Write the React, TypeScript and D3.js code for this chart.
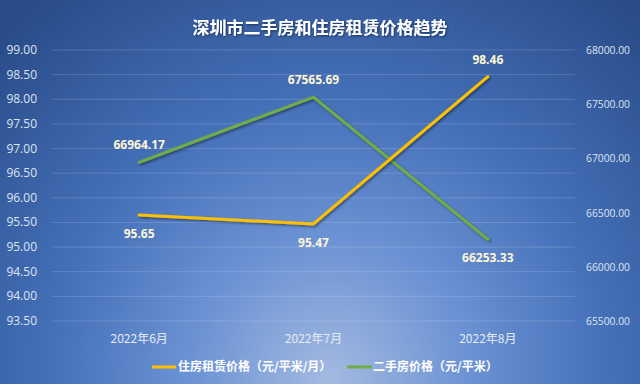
import React from "react";
import * as d3 from "d3";

const categories = ["2022年6月", "2022年7月", "2022年8月"];
const rentValues = [95.65, 95.47, 98.46];
const secondHandValues = [66964.17, 67565.69, 66253.33];
const leftTicks = [93.5, 94, 94.5, 95, 95.5, 96, 96.5, 97, 97.5, 98, 98.5, 99];
const rightTicks = [65500, 66000, 66500, 67000, 67500, 68000];
const title = "深圳市二手房和住房租赁价格趋势";
const rentName = "住房租赁价格（元/平米/月）";
const secondName = "二手房价格（元/平米）";

const W = 640;
const H = 384;
const FONT = "'Open Sans','Noto Sans CJK SC',sans-serif";
const CJK = "'Noto Sans CJK SC','Open Sans',sans-serif";

export default function App() {
  const left = 52, right = 575, top = 50, bottom = 321;
  const x = d3.scaleBand<string>().domain(categories).range([left, right]);
  const cx = (c: string) => (x(c) as number) + x.bandwidth() / 2;
  const yL = d3.scaleLinear().domain([93.5, 99]).range([bottom, top]);
  const yR = d3.scaleLinear().domain([65500, 68000]).range([bottom, top]);

  const rentLine = d3
    .line<number>()
    .x((_, i) => cx(categories[i]))
    .y((d) => yL(d));
  const secLine = d3
    .line<number>()
    .x((_, i) => cx(categories[i]))
    .y((d) => yR(d));

  const rentLabelAbove = [false, false, true];
  const secLabelAbove = [true, true, false];

  return (
    <svg width={W} height={H} style={{ position: "absolute", left: 0, top: 0 }}>
      <defs>
        <radialGradient id="bg" gradientUnits="userSpaceOnUse" cx={330} cy={380} r={470}>
          <stop offset="0" stopColor="#a4bae0" />
          <stop offset="0.3" stopColor="#6b92d4" />
          <stop offset="0.6" stopColor="#4470b8" />
          <stop offset="1" stopColor="#2a4c8a" />
        </radialGradient>
        <filter id="sh" x="-10%" y="-10%" width="120%" height="130%">
          <feDropShadow dx="1.5" dy="1.5" stdDeviation="1" floodColor="#000" floodOpacity="0.45" />
        </filter>
        <filter id="tsh" x="-10%" y="-30%" width="120%" height="160%">
          <feDropShadow dx="1" dy="1" stdDeviation="1" floodColor="#000" floodOpacity="0.5" />
        </filter>
      </defs>
      <rect x={0} y={0} width={W} height={H} fill="url(#bg)" />
      <text
        x={320}
        y={34}
        textAnchor="middle"
        fill="#ffffff"
        fontFamily={CJK}
        fontWeight="bold"
        fontSize={17}
        filter="url(#tsh)"
      >
        {title}
      </text>
      {leftTicks.map((t) => (
        <line
          key={"g" + t}
          x1={left}
          x2={right}
          y1={yL(t)}
          y2={yL(t)}
          stroke="#ffffff"
          strokeOpacity={0.16}
          strokeWidth={1}
        />
      ))}
      {leftTicks.map((t) => (
        <text
          key={"l" + t}
          x={37}
          y={yL(t) + 4}
          textAnchor="end"
          fill="#dde4f0"
          fontFamily={FONT}
          fontSize={12}
        >
          {t.toFixed(2)}
        </text>
      ))}
      {rightTicks.map((t) => (
        <text
          key={"r" + t}
          x={586}
          y={yR(t) + 4}
          textAnchor="start"
          fill="#dde4f0"
          fontFamily={FONT}
          fontSize={10.3}
        >
          {t.toFixed(2)}
        </text>
      ))}
      {categories.map((c) => (
        <text
          key={c}
          x={cx(c)}
          y={343}
          textAnchor="middle"
          fill="#e6ebf5"
          fontFamily={CJK}
          fontSize={12}
        >
          {c}
        </text>
      ))}
      <path
        d={secLine(secondHandValues) || ""}
        fill="none"
        stroke="#70ad47"
        strokeWidth={3}
        strokeLinecap="round"
        strokeLinejoin="round"
        filter="url(#sh)"
      />
      <path
        d={rentLine(rentValues) || ""}
        fill="none"
        stroke="#ffc000"
        strokeWidth={3}
        strokeLinecap="round"
        strokeLinejoin="round"
        filter="url(#sh)"
      />
      {rentValues.map((v, i) => (
        <text
          key={"rv" + i}
          x={cx(categories[i])}
          y={rentLabelAbove[i] ? yL(v) - 13 : yL(v) + 23}
          textAnchor="middle"
          fill="#fff6d6"
          fontFamily={FONT}
          fontWeight="bold"
          fontSize={12}
        >
          {v.toFixed(2)}
        </text>
      ))}
      {secondHandValues.map((v, i) => (
        <text
          key={"sv" + i}
          x={cx(categories[i])}
          y={secLabelAbove[i] ? yR(v) - 13 : yR(v) + 23}
          textAnchor="middle"
          fill="#fff6d6"
          fontFamily={FONT}
          fontWeight="bold"
          fontSize={12}
        >
          {v.toFixed(2)}
        </text>
      ))}
      <line x1={152} x2={176} y1={367} y2={367} stroke="#ffc000" strokeWidth={3} />
      <text x={178} y={371} fill="#ffffff" fontFamily={CJK} fontWeight="bold" fontSize={12}>
        {rentName}
      </text>
      <line x1={347} x2={372} y1={367} y2={367} stroke="#70ad47" strokeWidth={3} />
      <text x={373} y={371} fill="#ffffff" fontFamily={CJK} fontWeight="bold" fontSize={12}>
        {secondName}
      </text>
    </svg>
  );
}
